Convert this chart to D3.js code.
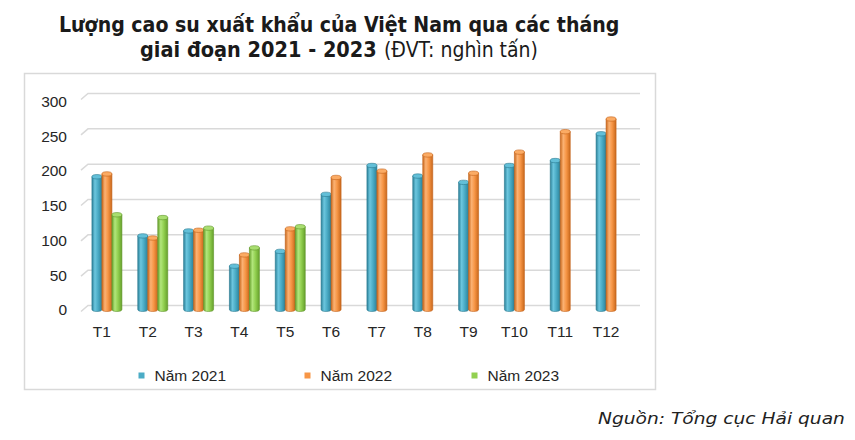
<!DOCTYPE html>
<html>
<head>
<meta charset="utf-8">
<script src="https://cdn.jsdelivr.net/npm/d3@7"></script>
<style>
  body { margin: 0; background: #fff; }
  svg { display: block; }
  .axis text { font-family: "Liberation Sans", Arial, sans-serif; font-size: 15.5px; fill: #262626; }
  .legend text { font-family: "Liberation Sans", Arial, sans-serif; font-size: 15.5px; fill: #262626; }
</style>
</head>
<body>
<div id="chart"></div>
<script>
// chart values
var months = ["T1", "T2", "T3", "T4", "T5", "T6", "T7", "T8", "T9", "T10", "T11", "T12"],
  years = ["Năm 2021", "Năm 2022", "Năm 2023"],
  v2021 = [190, 106, 113, 63, 84, 165, 206, 191, 182, 206, 213, 251],
  v2022 = [194, 103, 114, 79, 116, 189, 198, 221, 195, 225, 254, 272],
  v2023 = [136, 132, 117, 89, 119],
  yTicks = [0, 50, 100, 150, 200, 250, 300];

var Rubber = Rubber || {};

Rubber.Chart = function() {
  "use strict";
  var that = {},
    width = 855,
    height = 440,
    svg,
    seriesValues = [v2021, v2022, v2023],
    colors = [
      { id: "blue", dark: "#2b8199", mid: "#4bacc6", light: "#6cc6de", top: "#62bfd8", edge: "#2a7a90" },
      { id: "orange", dark: "#c9681c", mid: "#f79646", light: "#fbb274", top: "#fbab64", edge: "#c2621a" },
      { id: "green", dark: "#66a02c", mid: "#92d050", light: "#b2e67c", top: "#a9de70", edge: "#5f962a" },
    ];

  // text squeezed horizontally to a given width (the original font is narrower)
  function fitText(str, left, baseline, targetW, style) {
    var t = svg.append("text")
      .style("font-family", "'DejaVu Sans', sans-serif")
      .style("font-size", style.size)
      .style("font-weight", style.weight || "normal")
      .style("font-style", style.italic ? "italic" : "normal")
      .style("fill", style.fill || "#1a1a1a")
      .text(str),
      natural = t.node().getComputedTextLength();
    t.attr("transform", "translate(" + left + "," + baseline + ") scale(" + (targetW / natural) + ",1)");
    return t;
  }

  function drawChart() {
    // front scale for labels, bar scale for the cylinders, back scale for wall gridlines
    var x = d3.scaleBand().domain(months).range([79, 629]),
      xSub = d3.scaleBand().domain(years).range([0, 30]),
      yFront = d3.scaleLinear().domain([0, 300]).range([310, 101.5]),
      yBar = d3.scaleLinear().domain([0, 300]).range([309.3, 98.1]),
      yBack = d3.scaleLinear().domain([0, 300]).range([305.5, 93.5]),
      depth = 6,
      ry = 2.2,
      defs,
      bars;

    svg = d3.select("#chart").append("svg")
      .attr("width", width)
      .attr("height", height);

    defs = svg.append("defs");
    colors.forEach(function(c) {
      var g = defs.append("linearGradient")
        .attr("id", "cyl-" + c.id)
        .attr("x1", "0").attr("x2", "1").attr("y1", "0").attr("y2", "0");
      g.append("stop").attr("offset", "0").attr("stop-color", c.dark);
      g.append("stop").attr("offset", "0.3").attr("stop-color", c.light);
      g.append("stop").attr("offset", "0.6").attr("stop-color", c.mid);
      g.append("stop").attr("offset", "1").attr("stop-color", c.dark);
    });

    // Title
    fitText("Lượng cao su xuất khẩu của Việt Nam qua các tháng", 59, 31.7, 561,
      { size: "21.5px", weight: "bold" });
    fitText("giai đoạn 2021 - 2023", 140, 57.3, 237, { size: "21.5px", weight: "bold" });
    fitText("(ĐVT: nghìn tấn)", 384, 57.3, 154, { size: "21.5px" });

    // Frame of the chart area
    svg.append("rect")
      .attr("x", 24.5)
      .attr("y", 73.5)
      .attr("width", 631)
      .attr("height", 316)
      .attr("fill", "#fff")
      .attr("stroke", "#d9d9d9")
      .attr("stroke-width", 1.5);

    // Gridlines on the back wall, with a short slanted floor edge
    svg.append("g")
      .attr("class", "grid")
      .selectAll("path")
      .data(yTicks)
      .enter()
      .append("path")
      .attr("d", function(d) {
        var yb = yBack(d);
        return "M81," + (yb + depth) + "L" + (81 + depth + 1) + "," + yb + "H640";
      })
      .attr("fill", "none")
      .attr("stroke", "#d9d9d9")
      .attr("stroke-width", 1.5);

    // Axes
    svg.append("g")
      .attr("class", "y axis")
      .attr("transform", "translate(67,0)")
      .call(d3.axisLeft(yFront).tickValues(yTicks).tickSize(0).tickPadding(0))
      .call(function(g) {
        g.select(".domain").remove();
      });

    svg.append("g")
      .attr("class", "x axis")
      .attr("transform", "translate(0,322)")
      .call(d3.axisBottom(x).tickSize(0).tickPadding(3.5))
      .call(function(g) {
        g.select(".domain").remove();
      });

    // Cylinder bars
    bars = svg.append("g").attr("class", "bars");
    seriesValues.forEach(function(vals, s) {
      var c = colors[s],
        g = bars.append("g").attr("class", "series");
      vals.forEach(function(v, i) {
        var x0 = x(months[i]) + x.bandwidth() / 2 - 10 + xSub(years[s]),
          w = xSub.bandwidth(),
          yTop = yBar(v) + 1.2,
          y0 = yBar(0);
        g.append("path")
          .attr("d", "M" + x0 + "," + yTop + "V" + y0 +
            "A" + (w / 2) + "," + ry + " 0 0 0 " + (x0 + w) + "," + y0 +
            "V" + yTop + "Z")
          .attr("fill", "url(#cyl-" + c.id + ")")
          .attr("stroke", c.edge)
          .attr("stroke-width", 0.6);
        g.append("ellipse")
          .attr("cx", x0 + w / 2)
          .attr("cy", yTop)
          .attr("rx", w / 2)
          .attr("ry", ry)
          .attr("fill", c.top)
          .attr("stroke", c.edge)
          .attr("stroke-width", 0.6);
      });
    });

    // Legend
    var legendX = [138.5, 304.5, 471.5],
      legend = svg.append("g").attr("class", "legend"),
      keys = legend.selectAll(".key")
        .data(years)
        .enter()
        .append("g")
        .attr("class", "key")
        .attr("transform", function(d, i) {
          return "translate(" + legendX[i] + ",0)";
        });

    keys.append("rect")
      .attr("x", 0)
      .attr("y", 372.5)
      .attr("width", 6)
      .attr("height", 6)
      .attr("fill", function(d, i) {
        return colors[i].mid;
      });

    keys.append("text")
      .attr("x", 16)
      .attr("y", 381)
      .text(function(d) {
        return d;
      });

    // Source note
    fitText("Nguồn: Tổng cục Hải quan", 598, 423.5, 247,
      { size: "16px", italic: true, fill: "#222" });
  }

  that.drawChart = drawChart;
  return that;
};

Rubber.Chart().drawChart();
</script>
</body>
</html>
